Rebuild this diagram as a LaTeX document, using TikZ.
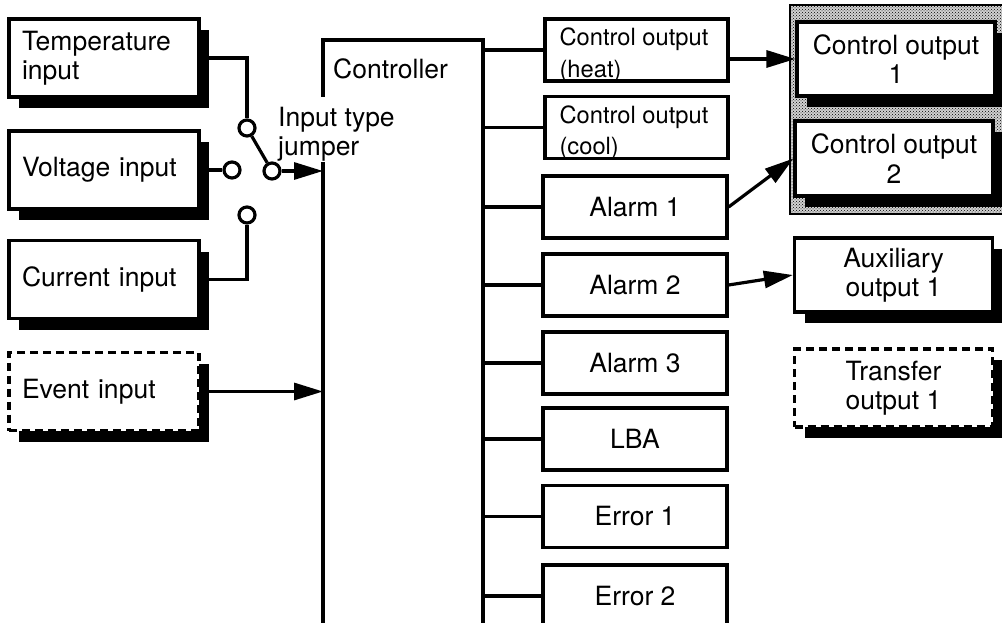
\documentclass[tikz,border=0pt]{standalone}
\usepackage{fontspec}
\setmainfont{TeX Gyre Heros}
\usetikzlibrary{arrows.meta,shadows,patterns,calc}
\begin{document}
\begin{tikzpicture}[x=1pt,y=-1pt,
  every node/.style={font=\fontsize{26.5}{29.5}\selectfont},
  shad/.style={drop shadow={shadow xshift=10pt,shadow yshift=-11pt,fill=black,opacity=1}},
  inbox/.style={draw,line width=3.2pt,fill=white,inner sep=0pt,minimum width=190pt,minimum height=78pt,
    text width=164pt,align=left,shad},
  dashbox/.style={dash pattern=on 8pt off 5pt},
  midbox/.style={draw,line width=3.2pt,fill=white,inner sep=0pt,minimum width=184pt,minimum height=62pt,align=center},
  smalltxt/.style={font=\fontsize{23.7}{31.5}\selectfont,anchor=west,align=left,inner sep=0pt,xshift=16pt,yshift=-5pt},
  obox/.style={draw,line width=3.2pt,fill=white,inner sep=0pt,minimum width=198pt,minimum height=74pt,align=center,shad},
  swc/.style={circle,draw,line width=3.2pt,fill=white,minimum size=16pt,inner sep=0pt},
  wire/.style={line width=3.2pt},
  arr/.style={line width=3.2pt,-{Triangle[length=29pt,width=17pt]}},
  txt/.style={inner sep=0pt}
]
\useasboundingbox (0,0) rectangle (1002,623);

% stippled group behind control outputs 1 and 2
\draw[line width=1.8pt,preaction={fill=black!18},pattern=crosshatch dots,pattern color=black] (790,5) rectangle (1010,214);

% input boxes
\node[inbox] (temp) at (104,58) {Temperature\\input};
\node[inbox] (volt) at (104,170) {Voltage input};
\node[inbox] (curr) at (104,279.5) {Current input};
\node[inbox,dashbox] (event) at (104,391.5) {Event input};

% controller frame
\coordinate (cTL) at (323,40);
\coordinate (cTR) at (483,40);
\coordinate (cGa) at (323,97);
\coordinate (cGb) at (323,162);
\coordinate (cBL) at (323,640);
\coordinate (cBR) at (483,640);
\draw[wire] (cGa) -- (cTL) -- (cTR) -- (cBR);
\draw[wire] (cGb) -- (cBL);
\node[txt,anchor=west] (ctltext) at (333,69) {Controller};
\node[txt,anchor=west,align=left] (jump) at (278,134) {Input type\\jumper};

% jumper contacts
\node[swc] (sT) at (247,128) {};
\node[swc] (sV) at (232,170) {};
\node[swc] (sC) at (272,171) {};
\node[swc] (sI) at (247,215) {};
\draw[wire] (temp.east) -| (sT.north);
\draw[wire] (volt.east) -- (sV.west);
\draw[wire] (curr.east) -| (sI.south);
\draw[wire] (sT) -- (sC);
\draw[arr] (sC.east) -- (sC.east -| cBL);
\draw[arr] (event.east) -- (event.east -| cBL);

% controller outputs
\node[midbox,minimum width=183pt,label={[smalltxt]west:Control output\\(heat)}] (heat) at (636.5,50) {};
\node[midbox,minimum width=183pt,label={[smalltxt]west:Control output\\(cool)}] (cool) at (636.5,127.5) {};
\node[midbox] (al1) at (635,207) {Alarm 1};
\node[midbox] (al2) at (635,285) {Alarm 2};
\node[midbox] (al3) at (635,363) {Alarm 3};
\node[midbox] (lba) at (635,439) {LBA};
\node[midbox] (er1) at (635,516.5) {Error 1};
\node[midbox] (er2) at (635,596) {Error 2};
\foreach \b in {heat,cool,al1,al2,al3,lba,er1,er2}
  \draw[wire] (\b.west) -- (\b.west -| cTR);

% output devices
\node[obox] (co1) at (896,59) {Control output\\1};
\node[obox,minimum height=75pt] (co2) at (894,158.5) {Control output\\2};
\node[obox] (aux) at (893.5,275) {Auxiliary\\output 1};
\node[obox,minimum height=78pt,dashbox] (xfer) at (893.5,388) {Transfer\\output 1};

\draw[arr] (heat.east |- co1.west) -- (co1.west);
\draw[arr] (al1.east) -- (co2.west);
\draw[arr] (al2.east) -- (aux.west);
\end{tikzpicture}
\end{document}
